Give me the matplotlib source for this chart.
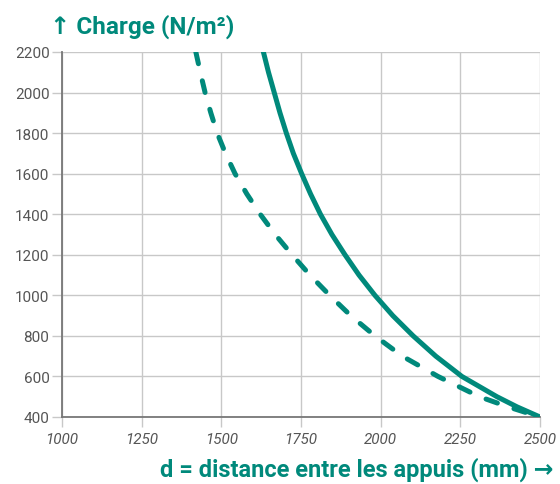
import matplotlib
matplotlib.use("Agg")
import matplotlib.pyplot as plt

# Data
solid_d = [1632, 1648, 1666, 1684, 1704, 1726, 1752, 1780, 1811, 1847, 1888, 1932, 1982, 2038, 2102, 2173, 2255, 2365, 2428, 2500]
solid_q = [2200, 2100, 2000, 1900, 1800, 1700, 1600, 1500, 1400, 1300, 1200, 1100, 1000, 900, 800, 700, 600, 500, 450, 400]
dash_d = [1420, 1434, 1449, 1467, 1487, 1513, 1543, 1580, 1622, 1669, 1722, 1778, 1840, 1906, 1982, 2068, 2180, 2310, 2400, 2500]
dash_q = [2200, 2100, 2000, 1900, 1800, 1700, 1600, 1500, 1400, 1300, 1200, 1100, 1000, 900, 800, 700, 600, 500, 450, 400]

x_ticks = [1000, 1250, 1500, 1750, 2000, 2250, 2500]
y_ticks = [400, 600, 800, 1000, 1200, 1400, 1600, 1800, 2000, 2200]

teal = "#00897B"
grid_c = "#c8c8c8"
axis_c = "#777777"
text_c = "#555555"

plt.rcParams['font.family'] = ['Roboto', 'DejaVu Sans']

fig = plt.figure(figsize=(5.6, 4.85), dpi=100)
ax = fig.add_axes([62/560, 1-418/485, 478/560, 365/485])

ax.plot(solid_d, solid_q, color=teal, lw=3.6, solid_capstyle='round', solid_joinstyle='round', zorder=3)
ax.plot(dash_d, dash_q, color=teal, lw=3.6, dashes=(2.4, 3.5), dash_capstyle='round',
        dash_joinstyle='round', zorder=3)

ax.set_xlim(1000, 2500)
ax.set_ylim(400, 2200)
ax.set_xticks(x_ticks)
ax.set_yticks(y_ticks)
ax.grid(True, color=grid_c, lw=1)
ax.set_axisbelow(True)
for s in ['top', 'right']:
    ax.spines[s].set_visible(False)
for s in ['left', 'bottom']:
    ax.spines[s].set_color(axis_c)
    ax.spines[s].set_linewidth(1.3)
ax.tick_params(axis='both', colors=grid_c, length=7, width=1, labelcolor=text_c, labelsize=11)
ax.tick_params(axis='x', pad=4)
ax.tick_params(axis='y', pad=2)
for lab in ax.get_xticklabels():
    lab.set_fontstyle('italic')

fig.text(50/560, 1-27/485, "↑ Charge (N/m²)", color=teal, fontsize=17.5, fontweight='bold',
         ha='left', va='center')
fig.text(553/560, 1-470/485, "d = distance entre les appuis (mm) →", color=teal, fontsize=17,
         fontweight='bold', ha='right', va='center')

fig.savefig("out.png", dpi=100)
